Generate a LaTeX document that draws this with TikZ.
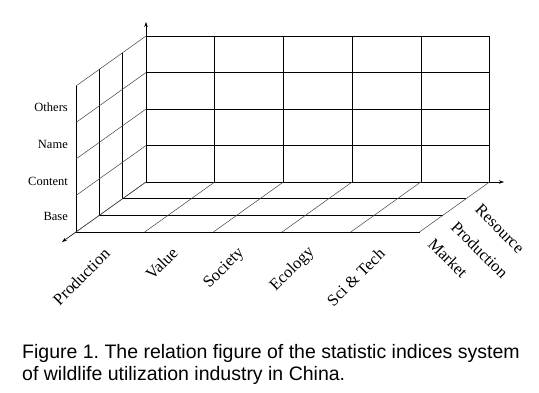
\documentclass[tikz,border=0pt]{standalone}
\usepackage{fontspec}
\setmainfont{Liberation Serif}
\newfontfamily\capfont{Liberation Sans}
\usetikzlibrary{arrows.meta}
\frenchspacing
\begin{document}
\begin{tikzpicture}[x=1pt,y=-1pt,
  grid/.style={line width=0.6pt,black},
  diag/.style={line width=0.5pt,black!75},
  axis/.style={line width=0.6pt,-{Stealth[length=5pt,width=3.5pt]}},
  lbl/.style={font=\fontsize{12.5}{14}\selectfont,inner sep=0pt},
  rlbl/.style={font=\fontsize{16.5}{18}\selectfont,inner sep=0pt},
  captext/.style={font=\capfont\fontsize{19.5}{23}\selectfont,inner sep=0pt,anchor=base west}]
\useasboundingbox (0,0) rectangle (539,393);
% back wall
\foreach \j in {0,...,4} \draw[grid] ({146},{182-\j*36.5}) -- ({489.5},{182-\j*36.5});
\foreach \i in {0,...,5} \draw[grid] ({146+\i*68.7},{182}) -- ({146+\i*68.7},{36});
% left wall
\foreach \k in {0,...,3} \draw[grid] ({76+\k*23.33},{232-\k*16.67}) -- ({76+\k*23.33},{232-\k*16.67-146});
\foreach \j in {0,...,4} \draw[diag] ({76},{232-\j*36.5}) -- ({146},{182-\j*36.5});
% floor
\foreach \k in {0,...,3} \draw[grid] ({76+\k*23.33},{232-\k*16.67}) -- ({76+\k*23.33+343.5},{232-\k*16.67});
\foreach \i in {0,...,5} \draw[diag] ({76+\i*68.7},{232}) -- ({146+\i*68.7},{182});
% axes
\coordinate (O) at (146,182);
\coordinate (F) at (76,232);
\coordinate (R) at (489.5,182);
\coordinate (Yt) at (146,22);
\coordinate (Ft) at (62,242);
\coordinate (Rt) at (504,182);
\draw[axis] (O) -- (Yt);
\draw[axis] (F) -- (Ft);
\draw[axis] (R) -- (Rt);
% left labels
\node[lbl,anchor=east] (l4) at (68,107) {Others};
\node[lbl,anchor=east] (l3) at (68,144) {Name};
\node[lbl,anchor=east] (l2) at (68,181) {Content};
\node[lbl,anchor=east] (l1) at (68,216) {Base};
% bottom labels
\node[rlbl,anchor=east,rotate=45] (b1) at (107,251) {Production};
\node[rlbl,anchor=east,rotate=45] (b2) at (175,250) {Value};
\node[rlbl,anchor=east,rotate=45] (b3) at (242,251) {Society};
\node[rlbl,anchor=east,rotate=45] (b4) at (312,250) {Ecology};
\node[rlbl,anchor=east,rotate=45] (b5) at (382,251) {Sci \& Tech};
% right labels
\node[rlbl,anchor=west,rotate=-45] (r1) at (478,207) {Resource};
\node[rlbl,anchor=west,rotate=-45] (r2) at (454,224) {Production};
\node[rlbl,anchor=west,rotate=-45] (r3) at (431,241) {Market};
% caption
\node[captext] (c1) at (22,358) {Figure 1. The relation figure of the statistic indices system};
\node[captext] (c2) at (22,381) {of wildlife utilization industry in China.};
\end{tikzpicture}
\end{document}
